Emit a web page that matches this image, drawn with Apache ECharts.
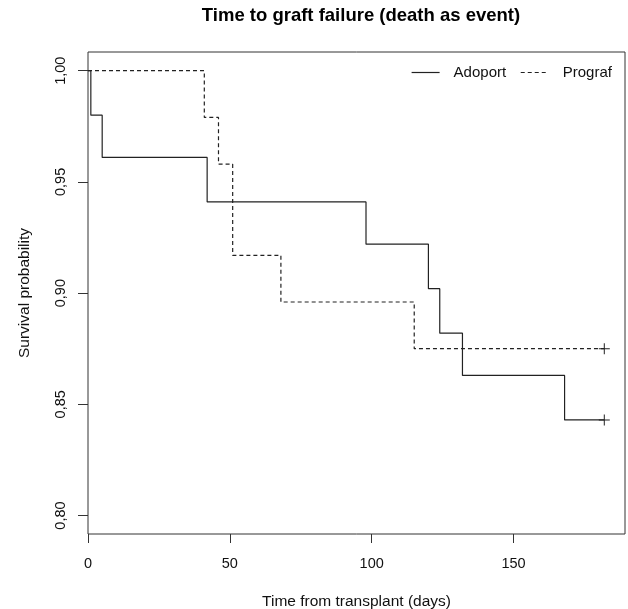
<!DOCTYPE html>
<html>
<head>
<meta charset="utf-8">
<script src="https://cdn.jsdelivr.net/npm/echarts@6/dist/echarts.min.js"></script>
<style>
	html, body { margin: 0; padding: 0; background: #fff; }
	#chart { width: 628px; height: 609px; }
</style>
</head>
<body>
<div id="chart"></div>
<script>
// Kaplan-Meier steps
var adoportTime = [0, 1, 5, 42, 98, 120, 124, 132, 168, 182];
var adoportSurv = [1.000, 0.980, 0.961, 0.941, 0.922, 0.902, 0.882, 0.863, 0.843, 0.843];
var prografTime = [0, 41, 46, 51, 68, 115, 182];
var prografSurv = [1.000, 0.979, 0.958, 0.917, 0.896, 0.875, 0.875];
var xTicks = [0, 50, 100, 150];
var yTicks = [0.80, 0.85, 0.90, 0.95, 1.00];

var font = 'Liberation Sans';
var ink = '#222';
var plus = 'path://M5,0h1v5h5v1h-5v5h-1v-5h-5v-1h5z';

function steps(t, s) {
	var out = [];
	for (var i = 0; i < t.length; i++) {
		var item = { value: [t[i], s[i]] };
		// last point is censored: draw a +
		if (i == t.length - 1) {
			item.symbol = plus;
			item.symbolSize = 11;
		}
		out.push(item);
	}
	return out;
}

var myChart = echarts.init(document.getElementById('chart'));
var option = {
	animation: false,
	backgroundColor: '#fff',
	textStyle: { fontFamily: font },
	title: {
		text: 'Time to graft failure (death as event)',
		left: 356,
		textAlign: 'center',
		top: 1,
		textStyle: { fontFamily: font, fontSize: 18.5, fontWeight: 'bold', color: '#000' }
	},
	legend: {
		left: 411,
		top: 65,
		padding: 0,
		itemWidth: 28,
		itemHeight: 14,
		itemGap: 14,
		itemStyle: { opacity: 0 },
		lineStyle: { width: 1.2 },
		data: ['Adoport', 'Prograf'],
		textStyle: { fontFamily: font, fontSize: 15, color: '#111', padding: [0, 0, 0, 9] }
	},
	grid: {
		left: 88,
		right: 3,
		top: 52,
		bottom: 75,
		outerBoundsMode: 'none',
		containLabel: false,
		show: true,
		borderColor: '#333',
		borderWidth: 1
	},
	xAxis: {
		type: 'value',
		min: 0,
		max: 189.3,
		splitLine: { show: false },
		axisLine: { show: false },
		axisTick: { length: 9, lineStyle: { color: '#333' }, customValues: xTicks },
		axisLabel: { customValues: xTicks, margin: 22, fontSize: 14.5, color: '#111', fontFamily: font },
		name: 'Time from transplant (days)',
		nameLocation: 'middle',
		nameGap: 60,
		nameTextStyle: { fontFamily: font, fontSize: 15.5, color: '#111' }
	},
	yAxis: {
		type: 'value',
		min: 0.7917,
		max: 1.0084,
		splitLine: { show: false },
		axisLine: { show: false },
		axisTick: { length: 10, lineStyle: { color: '#333' }, customValues: yTicks },
		axisLabel: {
			customValues: yTicks,
			rotate: 90,
			margin: 20,
			fontSize: 14.5,
			color: '#111',
			fontFamily: font,
			formatter: function (v) { return v.toFixed(2).replace('.', ','); }
		},
		name: 'Survival probability',
		nameLocation: 'middle',
		nameGap: 55,
		nameTextStyle: { fontFamily: font, fontSize: 15.5, color: '#111' }
	},
	series: [
		{
			name: 'Adoport',
			type: 'line',
			step: 'end',
			symbol: 'none',
			color: ink,
			lineStyle: { color: ink, width: 1.2, type: 'solid' },
			itemStyle: { color: ink },
			data: steps(adoportTime, adoportSurv)
		},
		{
			name: 'Prograf',
			type: 'line',
			step: 'end',
			symbol: 'none',
			color: ink,
			lineStyle: { color: ink, width: 1.2, type: [4, 3] },
			itemStyle: { color: ink },
			data: steps(prografTime, prografSurv)
		}
	]
};
myChart.setOption(option);
</script>
</body>
</html>
